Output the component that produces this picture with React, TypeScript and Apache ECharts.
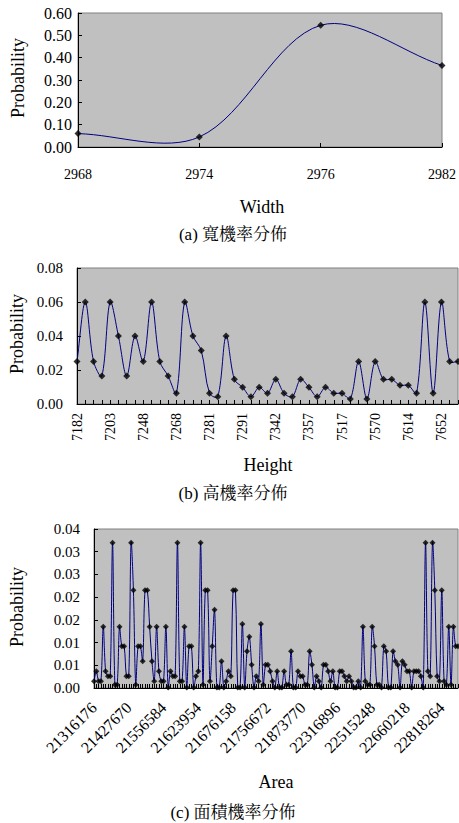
import React, { useEffect, useRef } from "react";
import * as echarts from "echarts";

// ---- Chart (a): Width ----
const widthCategories = ["2968", "2974", "2976", "2982"];
const widthProb = [0.06, 0.045, 0.545, 0.365];

// ---- Chart (b): Height ----
const heightTickLabels = ["7182", "7203", "7248", "7268", "7281", "7291", "7342", "7357", "7517", "7570", "7614", "7652"];
const heightProb = [
  0.025, 0.06, 0.025, 0.0165, 0.06, 0.04, 0.0165, 0.04, 0.025, 0.06,
  0.025, 0.0165, 0.0063, 0.06, 0.04, 0.0315, 0.0063, 0.0043, 0.04, 0.0145,
  0.0098, 0.0043, 0.0098, 0.0063, 0.0145, 0.0063, 0.0043, 0.0145, 0.0098, 0.0043,
  0.0098, 0.0063, 0.0063, 0.003, 0.025, 0.003, 0.025, 0.0145, 0.0145, 0.011,
  0.011, 0.0063, 0.06, 0.0063, 0.06, 0.025, 0.025,
];

// ---- Chart (c): Area ----
const areaTickLabels = ["21316176", "21427670", "21556584", "21623954", "21676158", "21756672", "21873770", "22316896", "22515248", "22660218", "22818264"];
const areaYTickLabels = ["0.00", "0.01", "0.01", "0.02", "0.02", "0.03", "0.03", "0.04"];
const areaProb = [
  0.0015, 0.0037, 0.0015, 0.0015, 0.0135, 0.0037, 0.0026, 0.0026, 0.032, 0.0007,
  0.0007, 0.0135, 0.0092, 0.0092, 0.0026, 0.0026, 0.032, 0.0215, 0.0007, 0.0092,
  0.0092, 0.0059, 0.0215, 0.0215, 0.0135, 0.0059, 0.0015, 0.0135, 0.0037, 0.0015,
  0.0015, 0.0135, 0.0001, 0.0037, 0.0026, 0.0026, 0.032, 0.0015, 0.0015, 0.0135,
  0.0001, 0.0092, 0.0092, 0.0001, 0.0026, 0.0037, 0.032, 0.0007, 0.0215, 0.0215,
  0.0015, 0.0092, 0.0172, 0.0001, 0.0001, 0.0059, 0.0001, 0.0015, 0.0037, 0.0026,
  0.0215, 0.0215, 0.0001, 0.0001, 0.0141, 0.0001, 0.0081, 0.0113, 0.0051, 0.0001,
  0.0026, 0.0015, 0.0141, 0.0007, 0.0051, 0.0051, 0.0037, 0.0015, 0.0001, 0.0037,
  0.0001, 0.0001, 0.0037, 0.0007, 0.0007, 0.0081, 0.0001, 0.0001, 0.0037, 0.0026,
  0.0026, 0.0007, 0.0007, 0.0081, 0.0051, 0.0001, 0.0026, 0.0015, 0.0001, 0.0051,
  0.0051, 0.0037, 0.0015, 0.0037, 0.0001, 0.0001, 0.0037, 0.0037, 0.0026, 0.0015,
  0.0026, 0.0015, 0.0001, 0.0001, 0.0015, 0.0001, 0.0135, 0.0015, 0.0007, 0.0007,
  0.0135, 0.0092, 0.0007, 0.0007, 0.0001, 0.0092, 0.0081, 0.0001, 0.0001, 0.0081,
  0.0059, 0.0051, 0.0001, 0.0059, 0.0051, 0.0037, 0.0037, 0.0001, 0.0037, 0.0037,
  0.0037, 0.0026, 0.0001, 0.032, 0.0037, 0.0026, 0.032, 0.0215, 0.0026, 0.0015,
  0.0215, 0.0015, 0.0007, 0.0135, 0.0007, 0.0135, 0.0092, 0.0092,
];

const HEIGHT_LABEL_STEP = 4;
const AREA_LABEL_STEP = 15;

const SERIF = "Liberation Serif, DejaVu Serif, serif";
const CJK_SERIF = "Liberation Serif, Noto Serif CJK TC, Noto Sans CJK TC, serif";
const LINE_COLOR = "#000080";
const SMOOTH = 1 / 3;

const heightCategories = heightProb.map((_, i) =>
  i % HEIGHT_LABEL_STEP === 0 && heightTickLabels[i / HEIGHT_LABEL_STEP] ? heightTickLabels[i / HEIGHT_LABEL_STEP] : `h${i}`
);
const areaCategories = areaProb.map((_, i) =>
  i % AREA_LABEL_STEP === 0 && areaTickLabels[i / AREA_LABEL_STEP] ? areaTickLabels[i / AREA_LABEL_STEP] : `a${i}`
);

function baseX(grid: number, data: string[], extra: any) {
  return {
    gridIndex: grid,
    type: "category",
    data,
    boundaryGap: false,
    axisLine: { show: true, lineStyle: { color: "#000", width: 1 } },
    axisTick: { show: true, inside: true, length: 4, interval: 0, lineStyle: { color: "#000" } },
    splitLine: { show: false },
    ...extra,
  };
}

function baseY(grid: number, min: number, max: number, interval: number, formatter: any, margin: number, fontSize: number) {
  return {
    gridIndex: grid,
    type: "value",
    min,
    max,
    interval,
    axisLine: { show: true, lineStyle: { color: "#000", width: 1 } },
    axisTick: { show: true, inside: true, length: 4, lineStyle: { color: "#000" } },
    splitLine: { show: false },
    axisLabel: { color: "#000", fontFamily: SERIF, fontSize, margin, formatter },
  };
}

function textEl(text: string, x: number, y: number, fontSize: number, family: string, rotation = 0) {
  return {
    type: "text",
    x,
    y,
    rotation,
    style: {
      text,
      fill: "#000",
      fontFamily: family,
      fontSize,
      textAlign: "center",
      textVerticalAlign: "middle",
    },
  };
}

// Excel-like smoothed line: Bezier segments whose tangents follow neighbouring points,
// scaled by segment lengths, all positions taken from the axis scales via api.coord.
function curveSeries(idx: number, values: number[]) {
  return {
    type: "custom",
    xAxisIndex: idx,
    yAxisIndex: idx,
    clip: true,
    silent: true,
    z: 2,
    data: values.map((v, i) => [i, v]),
    encode: { x: 0, y: 1 },
    renderItem: (params: any, api: any) => {
      const i = params.dataIndex;
      const n = values.length;
      if (i >= n - 1) return null;
      const p = (k: number) => {
        const kk = Math.max(0, Math.min(n - 1, k));
        return api.coord([kk, values[kk]]);
      };
      const dist = (a: number[], b: number[]) => Math.hypot(a[0] - b[0], a[1] - b[1]);
      const p0 = p(i - 1);
      const p1 = p(i);
      const p2 = p(i + 1);
      const p3 = p(i + 2);
      // forward control point of p1
      const a0 = dist(p0, p1);
      const a1 = dist(p1, p2);
      const fa = a0 + a1 > 0 ? (SMOOTH * a1) / (a0 + a1) : 0;
      // backward control point of p2
      const b0 = dist(p1, p2);
      const b1 = dist(p2, p3);
      const fb = b0 + b1 > 0 ? (SMOOTH * b0) / (b0 + b1) : 0;
      return {
        type: "bezierCurve",
        shape: {
          x1: p1[0],
          y1: p1[1],
          x2: p2[0],
          y2: p2[1],
          cpx1: p1[0] + (p2[0] - p0[0]) * fa,
          cpy1: p1[1] + (p2[1] - p0[1]) * fa,
          cpx2: p2[0] - (p3[0] - p1[0]) * fb,
          cpy2: p2[1] - (p3[1] - p1[1]) * fb,
        },
        style: { stroke: LINE_COLOR, fill: "none", lineWidth: 1 },
      };
    },
  };
}

function markerSeries(idx: number, values: number[], symbolSize: number) {
  return {
    type: "scatter",
    xAxisIndex: idx,
    yAxisIndex: idx,
    data: values,
    symbol: "diamond",
    symbolSize,
    z: 3,
    itemStyle: { color: "#000" },
  };
}

export default function App() {
  const ref = useRef<HTMLDivElement>(null);

  useEffect(() => {
    if (!ref.current) return;
    const chart = echarts.init(ref.current, undefined, { renderer: "svg" });
    const gridStyle = { show: true, backgroundColor: "#C0C0C0", borderColor: "#808080", borderWidth: 1 };
    chart.setOption({
      animation: false,
      backgroundColor: "#fff",
      textStyle: { fontFamily: SERIF },
      grid: [
        { left: 78, top: 13, width: 365, height: 134, ...gridStyle },
        { left: 77, top: 268, width: 381, height: 136, ...gridStyle },
        { left: 94, top: 529, width: 364, height: 159, ...gridStyle },
      ],
      xAxis: [
        baseX(0, widthCategories, {
          axisLabel: { color: "#000", fontFamily: SERIF, fontSize: 14, margin: 20, interval: 0 },
        }),
        baseX(1, heightCategories, {
          axisLabel: { color: "#000", fontFamily: SERIF, fontSize: 14, margin: 9, rotate: 90, interval: HEIGHT_LABEL_STEP - 1 },
        }),
        baseX(2, areaCategories, {
          axisLabel: { color: "#000", fontFamily: SERIF, fontSize: 16, margin: 17, rotate: 45, interval: AREA_LABEL_STEP - 1 },
        }),
      ],
      yAxis: [
        baseY(0, 0, 0.6, 0.1, (v: number) => v.toFixed(2), 6, 16),
        baseY(1, 0, 0.08, 0.02, (v: number) => v.toFixed(2), 14, 15),
        baseY(2, 0, 0.035, 0.005, (v: number) => areaYTickLabels[Math.round(v / 0.005)], 14, 15),
      ],
      series: [
        curveSeries(0, widthProb),
        markerSeries(0, widthProb, 7),
        curveSeries(1, heightProb),
        markerSeries(1, heightProb, 7),
        curveSeries(2, areaProb),
        markerSeries(2, areaProb, 6),
      ],
      graphic: [
        textEl("Probability", 18, 78, 18, SERIF, Math.PI / 2),
        textEl("Width", 262, 207, 18, SERIF),
        textEl("(a) 寬機率分佈", 233, 234, 17, CJK_SERIF),
        textEl("Probability", 17, 334, 18, SERIF, Math.PI / 2),
        textEl("Height", 268, 465, 18, SERIF),
        textEl("(b) 高機率分佈", 233, 493, 17, CJK_SERIF),
        textEl("Probability", 17, 607, 18, SERIF, Math.PI / 2),
        textEl("Area", 276, 782, 18, SERIF),
        textEl("(c) 面積機率分佈", 233, 812, 17, CJK_SERIF),
      ],
    });
    return () => chart.dispose();
  }, []);

  return (
    <div
      ref={ref}
      style={{ position: "absolute", left: 0, top: 0, width: 459, height: 823, background: "#fff" }}
    />
  );
}
